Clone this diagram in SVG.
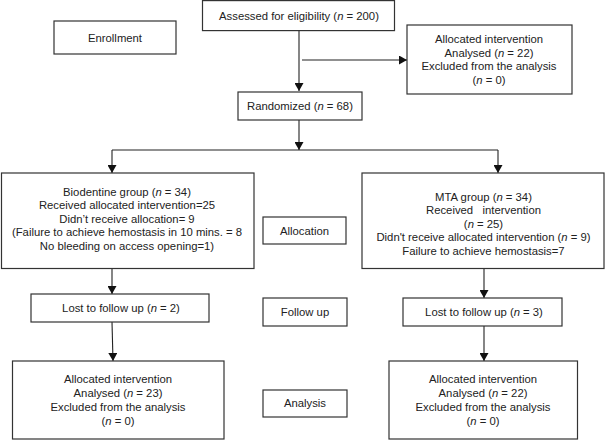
<svg xmlns="http://www.w3.org/2000/svg" width="606" height="440" viewBox="0 0 606 440">
<defs>
<marker id="ah" markerWidth="8" markerHeight="9" refX="8" refY="4.5" orient="auto" markerUnits="userSpaceOnUse">
<path d="M0,0 L8,4.5 L0,9 Z" fill="#111"/>
</marker>
<style>
.box{fill:#fff;stroke:#333;stroke-width:1.2}
.t{font-family:"Liberation Sans",Arial,sans-serif;font-size:11.3px;fill:#222;text-anchor:middle}
.c{fill:none;stroke:#222;stroke-width:1.1}
.i{font-style:italic}
</style>
</defs>
<rect width="606" height="440" fill="#fff"/>
<g id="connectors">
<line class="c" x1="299" y1="30.5" x2="299" y2="91" marker-end="url(#ah)"/>
<line class="c" x1="302" y1="60" x2="407" y2="60" marker-end="url(#ah)"/>
<line class="c" x1="299" y1="120" x2="299" y2="150" marker-end="url(#ah)"/>
<polyline class="c" points="112,150 498,150"/>
<line class="c" x1="112" y1="150" x2="112" y2="173" marker-end="url(#ah)"/>
<line class="c" x1="498" y1="150" x2="498" y2="173" marker-end="url(#ah)"/>
<line class="c" x1="112" y1="268.5" x2="112" y2="294" marker-end="url(#ah)"/>
<line class="c" x1="484" y1="268.5" x2="484" y2="298" marker-end="url(#ah)"/>
<line class="c" x1="112" y1="322" x2="113" y2="361" marker-end="url(#ah)"/>
<line class="c" x1="484" y1="326" x2="484" y2="361" marker-end="url(#ah)"/>
</g>
<g id="assessed">
<rect class="box" x="202.5" y="0.6" width="192" height="30"/>
<text class="t" x="299" y="19.5">Assessed for eligibility (<tspan class="i">n</tspan> = 200)</text>
</g>
<g id="enrollment">
<rect class="box" x="54" y="21" width="122" height="33"/>
<text class="t" x="115" y="42">Enrollment</text>
</g>
<g id="excluded">
<rect class="box" x="407" y="25" width="165" height="69"/>
<text class="t" x="489" y="43">Allocated intervention</text>
<text class="t" x="489" y="56.5">Analysed (<tspan class="i">n</tspan> = 22)</text>
<text class="t" x="489" y="70">Excluded from the analysis</text>
<text class="t" x="489" y="83.5">(<tspan class="i">n</tspan> = 0)</text>
</g>
<g id="randomized">
<rect class="box" x="238" y="92" width="124" height="28"/>
<text class="t" x="300" y="110">Randomized (<tspan class="i">n</tspan> = 68)</text>
</g>
<g id="biodentine">
<rect class="box" x="1.5" y="173" width="252.5" height="95.5"/>
<text class="t" x="127" y="195.5">Biodentine group (<tspan class="i">n</tspan> = 34)</text>
<text class="t" x="127" y="209">Received allocated intervention=25</text>
<text class="t" x="127" y="222.5">Didn’t receive allocation= 9</text>
<text class="t" x="127" y="236">(Failure to achieve hemostasis in 10 mins. = 8</text>
<text class="t" x="127" y="249.5">No bleeding on access opening=1)</text>
</g>
<g id="allocation">
<rect class="box" x="263" y="217" width="83" height="27"/>
<text class="t" x="304.5" y="235">Allocation</text>
</g>
<g id="mta">
<rect class="box" x="362" y="173" width="242" height="95.5"/>
<text class="t" x="483.5" y="200.5">MTA group (<tspan class="i">n</tspan> = 34)</text>
<text class="t" x="483.5" y="214" style="white-space:pre">Received   intervention</text>
<text class="t" x="483.5" y="227.5">(<tspan class="i">n</tspan> = 25)</text>
<text class="t" x="483.5" y="241">Didn't receive allocated intervention (<tspan class="i">n</tspan> = 9)</text>
<text class="t" x="483.5" y="254.5">Failure to achieve hemostasis=7</text>
</g>
<g id="lost-left">
<rect class="box" x="31" y="294" width="178" height="28"/>
<text class="t" x="121" y="312">Lost to follow up (<tspan class="i">n</tspan> = 2)</text>
</g>
<g id="followup">
<rect class="box" x="263" y="298" width="84" height="28"/>
<text class="t" x="305" y="316">Follow up</text>
</g>
<g id="lost-right">
<rect class="box" x="403" y="298" width="159" height="28"/>
<text class="t" x="484" y="316">Lost to follow up (<tspan class="i">n</tspan> = 3)</text>
</g>
<g id="analysed-left">
<rect class="box" x="12.5" y="361" width="211.5" height="78"/>
<text class="t" x="118" y="383">Allocated intervention</text>
<text class="t" x="118" y="397">Analysed (<tspan class="i">n</tspan> = 23)</text>
<text class="t" x="118" y="411">Excluded from the analysis</text>
<text class="t" x="118" y="424.5">(<tspan class="i">n</tspan> = 0)</text>
</g>
<g id="analysis">
<rect class="box" x="263" y="390" width="84" height="27"/>
<text class="t" x="305" y="407">Analysis</text>
</g>
<g id="analysed-right">
<rect class="box" x="389" y="361" width="188.5" height="78"/>
<text class="t" x="483" y="383">Allocated intervention</text>
<text class="t" x="483" y="397">Analysed (<tspan class="i">n</tspan> = 22)</text>
<text class="t" x="483" y="411">Excluded from the analysis</text>
<text class="t" x="483" y="424.5">(<tspan class="i">n</tspan> = 0)</text>
</g>
</svg>
